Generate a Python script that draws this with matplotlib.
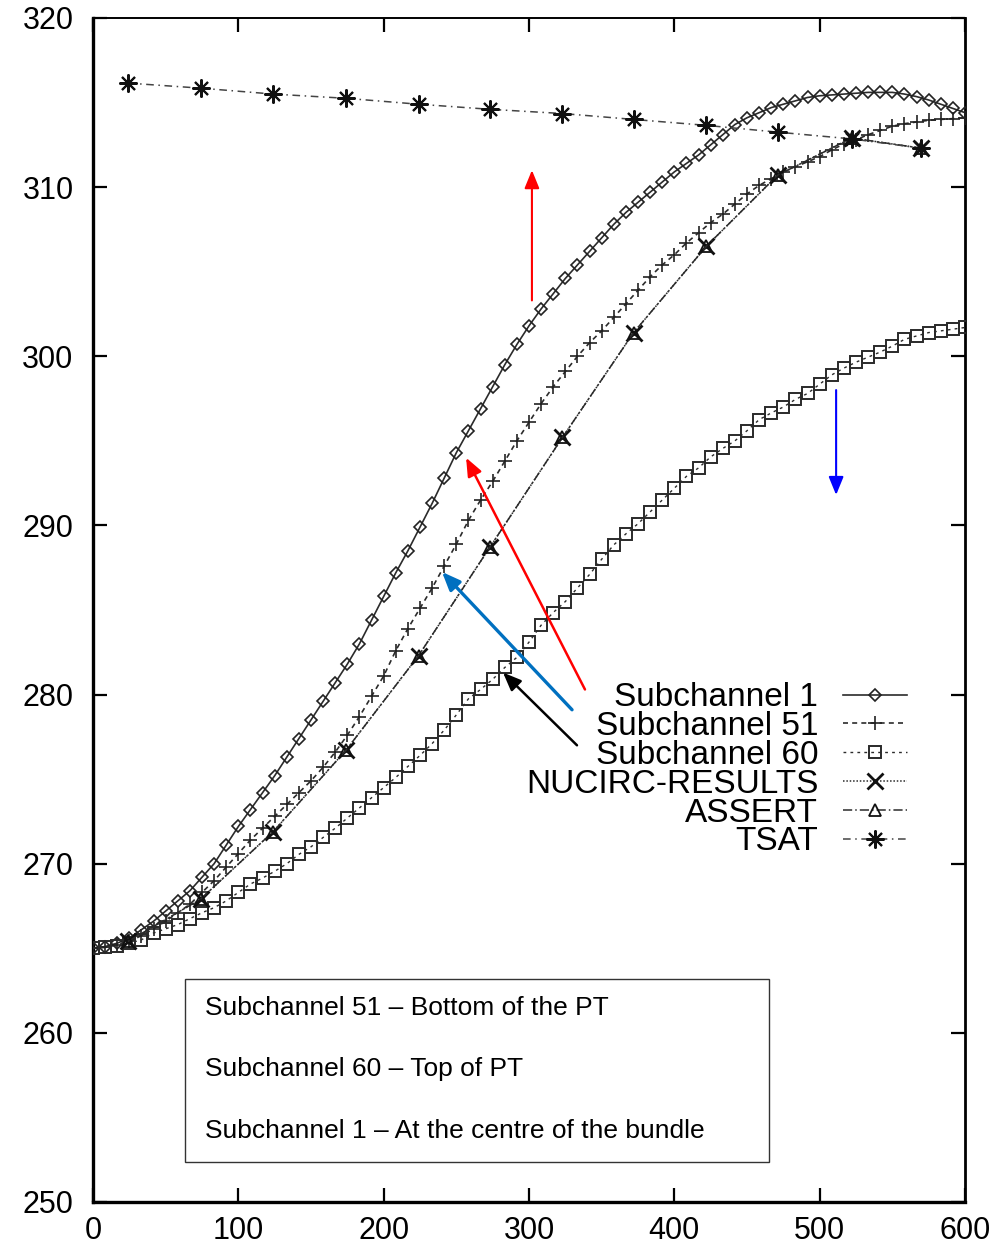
"""Subchannel temperature profiles along the channel, compared with NUCIRC, ASSERT and TSAT."""

import numpy as np
import matplotlib
matplotlib.use("Agg")
import matplotlib.pyplot as plt

plt.rcParams["font.family"] = ["Liberation Sans", "DejaVu Sans"]

# --- data --------------------------------------------------------------------
# dense subchannel outputs share one axial grid (73 nodes, 0..600)
X_DENSE = np.linspace(0, 600, 73)

SUB1 = [
    265.0, 265.1, 265.3, 265.6, 266.1, 266.6, 267.2, 267.8, 268.4, 269.2,
    270.0, 271.1, 272.2, 273.2, 274.2, 275.2, 276.3, 277.4, 278.5, 279.6,
    280.7, 281.8, 283.0, 284.4, 285.8, 287.2, 288.5, 289.9, 291.3, 292.8,
    294.3, 295.6, 296.9, 298.2, 299.5, 300.7, 301.8, 302.8, 303.7, 304.6,
    305.4, 306.2, 307.0, 307.8, 308.5, 309.1, 309.7, 310.3, 310.9, 311.4,
    311.9, 312.5, 313.1, 313.7, 314.1, 314.4, 314.7, 314.9, 315.1, 315.3,
    315.4, 315.45, 315.5, 315.55, 315.6, 315.6, 315.6, 315.5, 315.35, 315.15,
    314.9, 314.65, 314.4,
]
SUB51 = [
    265.0, 265.05, 265.2, 265.4, 265.75, 266.15, 266.6, 267.1, 267.6, 268.3,
    269.0, 269.8, 270.6, 271.4, 272.1, 272.8, 273.5, 274.2, 274.9, 275.7,
    276.6, 277.6, 278.7, 279.9, 281.1, 282.6, 283.9, 285.1, 286.3, 287.6,
    288.9, 290.3, 291.5, 292.6, 293.8, 295.0, 296.1, 297.2, 298.2, 299.1,
    300.0, 300.8, 301.5, 302.3, 303.1, 303.9, 304.7, 305.4, 306.0, 306.7,
    307.3, 307.9, 308.4, 309.0, 309.6, 310.1, 310.5, 310.9, 311.2, 311.5,
    311.8, 312.2, 312.55, 312.8, 313.1, 313.35, 313.6, 313.75, 313.85, 313.95,
    314.0, 314.05, 314.1,
]
SUB60 = [
    265.0, 265.05, 265.15, 265.3, 265.5, 265.9, 266.15, 266.4, 266.75, 267.1,
    267.4, 267.8, 268.3, 268.8, 269.15, 269.55, 270.0, 270.55, 271.0, 271.55,
    272.1, 272.7, 273.3, 273.9, 274.5, 275.1, 275.75, 276.4, 277.1, 277.9,
    278.8, 279.75, 280.3, 280.9, 281.6, 282.2, 283.1, 284.1, 284.85, 285.5,
    286.3, 287.1, 288.0, 288.85, 289.5, 290.1, 290.8, 291.5, 292.2, 292.9,
    293.4, 294.05, 294.55, 295.0, 295.6, 296.25, 296.65, 297.0, 297.45, 297.8,
    298.35, 298.9, 299.3, 299.65, 299.95, 300.25, 300.6, 301.0, 301.2, 301.4,
    301.5, 301.6, 301.7,
]

# reference codes, sparse axial stations
X_REF = [24, 74, 124, 174, 224, 273, 323, 372, 422, 471, 522, 570]
NUCIRC = [265.4, 267.9, 271.9, 276.7, 282.3, 288.7, 295.2, 301.4, 306.5, 310.7, 312.9, 312.3]
ASSERT = [265.4, 267.9, 271.9, 276.7, 282.3, 288.7, 295.2, 301.4, 306.5, 310.7, 312.9, 312.3]
TSAT = [316.15, 315.85, 315.5, 315.25, 314.9, 314.6, 314.35, 314.0, 313.65, 313.25, 312.85, 312.3]

NOTES = [
    "Subchannel 51 \u2013 Bottom of the PT",
    "Subchannel 60 \u2013 Top of PT",
    "Subchannel 1 \u2013 At the centre of the bundle",
]

LINE = "#2b2b2b"


def main() -> None:
    fig = plt.figure(figsize=(9.99, 12.47), dpi=100)
    ax = fig.add_axes([0.0931, 0.0361, 0.8729, 0.9495])

    ax.plot(X_DENSE, SUB1, color=LINE, lw=1.2, ls="-", marker="D", ms=6.5,
            mfc="none", mec="#222222", mew=1.2, label="Subchannel 1", zorder=4)
    ax.plot(X_DENSE, SUB51, color=LINE, lw=1.2, ls=(0, (3, 2.5)), marker="+",
            ms=10, mec="#222222", mew=1.2, label="Subchannel 51", zorder=4)
    ax.plot(X_DENSE, SUB60, color=LINE, lw=1.0, ls=(0, (2, 3)), marker="s",
            ms=8.5, mfc="none", mec="#2a2a2a", mew=1.4, label="Subchannel 60", zorder=4)
    ax.plot(X_REF, NUCIRC, color=LINE, lw=1.1, ls=(0, (1, 1.2)), marker="x",
            ms=11, mec="#111111", mew=2.0, label="NUCIRC-RESULTS", zorder=5)
    ax.plot(X_REF, ASSERT, color=LINE, lw=1.1, ls=(0, (6, 2, 1, 2)), marker="^",
            ms=8, mfc="none", mec="#111111", mew=1.3, label="ASSERT", zorder=5)
    ax.plot(X_REF, TSAT, color="#444444", lw=1.1, ls=(0, (5, 3, 1, 3)),
            marker=(8, 2, 0), ms=13, mec="#111111", mew=1.5, label="TSAT", zorder=5)

    # annotation arrows
    def arrow(tail, head, color, lw):
        ax.annotate("", xy=head, xytext=tail,
                    arrowprops=dict(arrowstyle="-|>,head_length=1.1,head_width=0.45",
                                    color=color, lw=lw, shrinkA=0, shrinkB=0),
                    zorder=6)

    arrow((302, 303.3), (302, 311.0), "#ff0000", 1.5)
    arrow((338.5, 280.3), (256.7, 294.0), "#ff0000", 1.8)
    arrow((329.6, 279.1), (240.1, 287.25), "#0070c0", 2.4)
    arrow((333, 277.0), (282.1, 281.3), "#000000", 1.8)
    arrow((511.3, 298.0), (511.3, 291.8), "#0000ff", 1.5)

    leg = ax.legend(loc="upper right", bbox_to_anchor=(0.933, 0.439),
                    frameon=False, fontsize=24, markerfirst=False,
                    handlelength=1.9, handletextpad=0.75, labelspacing=-0.065,
                    borderpad=0, borderaxespad=0)
    for text in leg.get_texts():
        text.set_ha("right")
    leg._legend_box.align = "right"

    # note box
    ax.add_patch(plt.Rectangle((0.1055, 0.0338), 0.6695, 0.1545,
                               transform=ax.transAxes, fc="white", ec="#333333",
                               lw=1.0, zorder=6))
    ax.text(0.128, 0.112, "\n\n".join(NOTES), transform=ax.transAxes,
            fontsize=19, va="center", ha="left", linespacing=1.35, zorder=7)

    ax.set_xlim(0, 600)
    ax.set_ylim(250, 320)
    ax.set_xticks(range(0, 601, 100))
    ax.set_yticks(range(250, 321, 10))
    ax.tick_params(direction="in", length=10, width=1.6, labelsize=22,
                   top=True, right=True, pad=10)
    ax.tick_params(axis="y", pad=14)
    for side, lw in (("left", 2.4), ("bottom", 2.4), ("right", 2.0), ("top", 1.4)):
        ax.spines[side].set_linewidth(lw)

    fig.savefig("out.png", dpi=100)
    plt.close(fig)


if __name__ == "__main__":
    main()
